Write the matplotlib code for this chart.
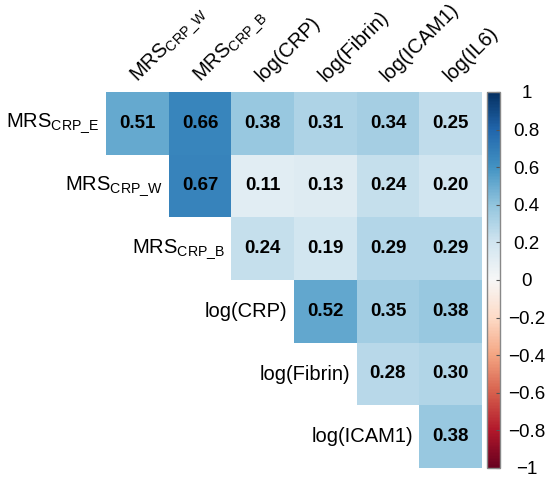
import numpy as np
import matplotlib
matplotlib.use("Agg")
import matplotlib.pyplot as plt

plt.rcParams['font.family'] = ['Liberation Sans', 'DejaVu Sans']
plt.rcParams['mathtext.fontset'] = 'custom'
plt.rcParams['mathtext.rm'] = 'Liberation Sans'
plt.rcParams['mathtext.it'] = 'Liberation Sans:italic'
plt.rcParams['mathtext.bf'] = 'Liberation Sans:bold'

row_labels = [r'MRS$_{\mathrm{CRP\_E}}$', r'MRS$_{\mathrm{CRP\_W}}$', r'MRS$_{\mathrm{CRP\_B}}$',
              'log(CRP)', 'log(Fibrin)', 'log(ICAM1)']
col_labels = [r'MRS$_{\mathrm{CRP\_W}}$', r'MRS$_{\mathrm{CRP\_B}}$', 'log(CRP)',
              'log(Fibrin)', 'log(ICAM1)', 'log(IL6)']

# upper triangle, row i starts at column i
row0 = [0.51, 0.66, 0.38, 0.31, 0.34, 0.25]
row1 = [0.67, 0.11, 0.13, 0.24, 0.20]
row2 = [0.24, 0.19, 0.29, 0.29]
row3 = [0.52, 0.35, 0.38]
row4 = [0.28, 0.30]
row5 = [0.38]
rows = [row0, row1, row2, row3, row4, row5]

cbar_ticks = [1, 0.8, 0.6, 0.4, 0.2, 0, -0.2, -0.4, -0.6, -0.8, -1]

n = len(rows)
corr = np.full((n, n), np.nan)
for i, r in enumerate(rows):
    corr[i, i:] = r
data = np.ma.masked_invalid(corr)

W, H = 550, 480
fig = plt.figure(figsize=(W / 100, H / 100), dpi=100)
ax = fig.add_axes([106 / W, 12 / H, 376 / W, 376 / H])
mesh = ax.pcolormesh(np.arange(n + 1), np.arange(n + 1), data, cmap='RdBu', vmin=-1, vmax=1)
ax.set_xlim(0, n)
ax.set_ylim(n, 0)
ax.axis('off')

for i in range(n):
    for j in range(i, n):
        ax.text(j + 0.5, i + 0.5, f'{corr[i, j]:.2f}', ha='center', va='center',
                fontsize=13.5, fontweight='bold', color='black')

for i, lab in enumerate(row_labels):
    ax.text(i - 0.1, i + 0.5, lab, ha='right', va='center', fontsize=14.5)

for j, lab in enumerate(col_labels):
    ax.text(j + 0.5, -0.15, lab, ha='left', va='baseline', rotation=45,
            rotation_mode='anchor', fontsize=14.5)

cax = fig.add_axes([487 / W, 12 / H, 13 / W, 376 / H])
cb = fig.colorbar(mesh, cax=cax, ticks=cbar_ticks)
cb.ax.yaxis.set_ticks_position('right')
cb.ax.set_yticklabels([f'{t:g}'.replace('-', '\u2212') for t in cbar_ticks], ha='center')
cb.ax.tick_params(direction='in', length=3, width=0.8, color='#555555', pad=19, labelsize=13.5)
cb.outline.set_edgecolor('#888888')
cb.outline.set_linewidth(1)

fig.savefig('out.png', dpi=100)
